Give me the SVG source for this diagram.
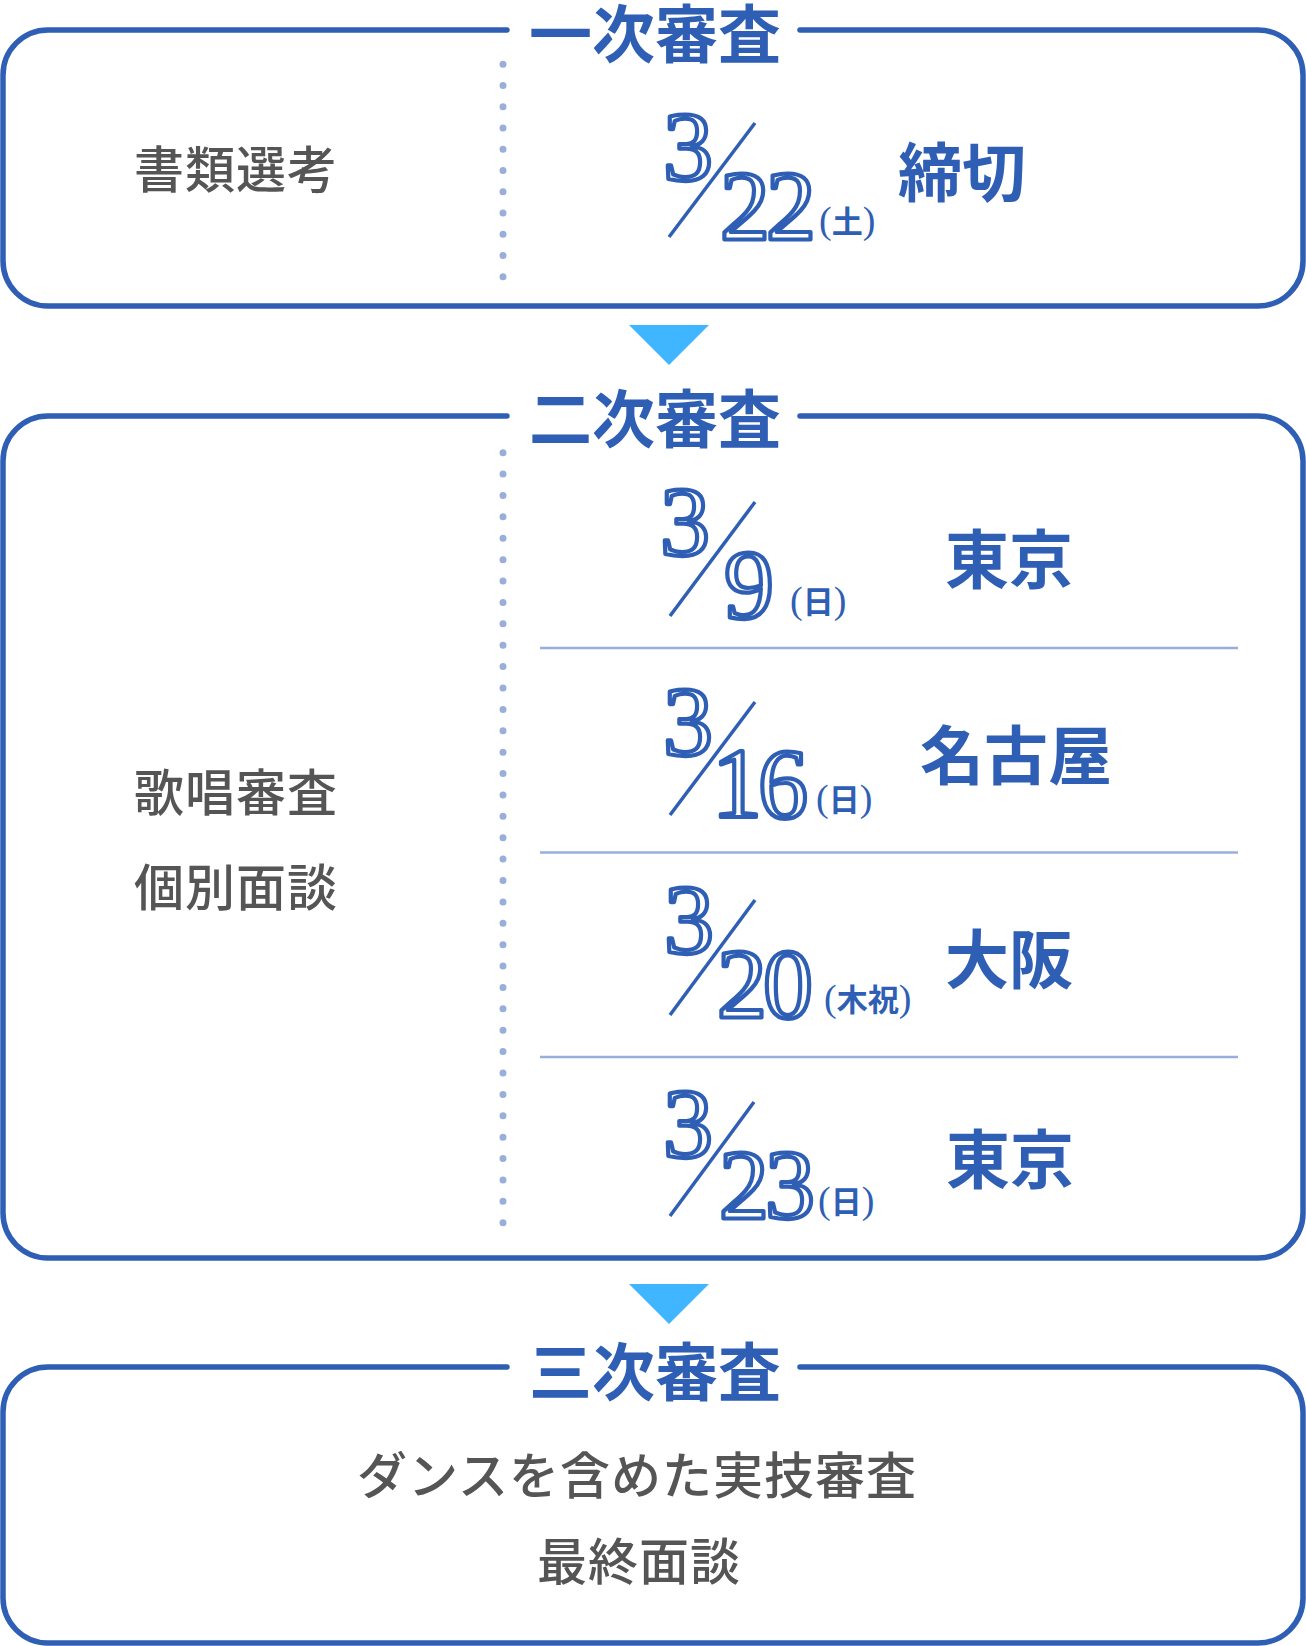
<svg xmlns="http://www.w3.org/2000/svg" width="1306" height="1646" viewBox="0 0 1306 1646">
<style>
.frame{fill:none;stroke:#2f5fb4;stroke-width:5.5;stroke-linecap:round}
.dots{fill:none;stroke:#98afdc;stroke-width:7;stroke-linecap:round}
.sep{stroke:#98afdc;stroke-width:2.5}
.title{font-family:"Noto Sans CJK JP","Noto Sans CJK SC",sans-serif;font-weight:700;font-size:63px;fill:#2f5fb4;text-anchor:middle}
.gray{font-family:"Noto Sans CJK JP","Noto Sans CJK SC",sans-serif;font-weight:500;font-size:50px;fill:#555555;letter-spacing:1px}
.num{font-family:"Liberation Serif","DejaVu Serif",serif;font-size:100px;fill:#ffffff;stroke:#2f5fb4;stroke-width:4.2;stroke-linejoin:round;letter-spacing:-4px}
.slash{stroke:#2f5fb4;stroke-width:3.5;stroke-linecap:butt}
.wd{font-family:"Liberation Serif","Noto Sans CJK JP",serif;font-size:38px;fill:#2f5fb4}
.wk{font-family:"Noto Sans CJK JP",sans-serif;font-weight:700;font-size:31px}
.place{font-family:"Noto Sans CJK JP","Noto Sans CJK SC",sans-serif;font-weight:700;font-size:64px;fill:#2f5fb4}
.arrow{fill:#3fb6ff}
</style>

<g id="stage1">
  <path class="frame" d="M507,30 H48 A45,45 0 0 0 3,75 V261 A45,45 0 0 0 48,306 H1258 A45,45 0 0 0 1303,261 V75 A45,45 0 0 0 1258,30 H800"/>
  <text class="title" x="655" y="57">一次審査</text>
  <path class="dots" d="M503,64.3 V277" stroke-dasharray="0 21.24"/>
  <text class="gray" x="134" y="188">書類選考</text>
  <g id="date-0322">
    <text class="num" x="663" y="180">3</text>
    <line class="slash" x1="755" y1="123" x2="669" y2="237"/>
    <text class="num" x="720" y="239">22</text>
    <text class="wd" x="819" y="233">(<tspan class="wk">土</tspan>)</text>
    <text class="place" x="898" y="196">締切</text>
  </g>
</g>

<g id="stage2">
  <path class="frame" d="M507,416 H48 A45,45 0 0 0 3,461 V1213 A45,45 0 0 0 48,1258 H1258 A45,45 0 0 0 1303,1213 V461 A45,45 0 0 0 1258,416 H800"/>
  <text class="title" x="655" y="442">二次審査</text>
  <path class="dots" d="M503,452.7 V1223.5" stroke-dasharray="0 21.39"/>
  <text class="gray" x="134" y="811">歌唱審査</text>
  <text class="gray" x="134" y="906">個別面談</text>
  <line class="sep" x1="540" y1="648" x2="1238" y2="648"/>
  <line class="sep" x1="540" y1="852.5" x2="1238" y2="852.5"/>
  <line class="sep" x1="540" y1="1057" x2="1238" y2="1057"/>
  <g id="date-0309">
    <text class="num" x="660" y="555">3</text>
    <line class="slash" x1="755" y1="502" x2="670" y2="616"/>
    <text class="num" x="724" y="618">9</text>
    <text class="wd" x="790" y="613">(<tspan class="wk">日</tspan>)</text>
    <text class="place" x="945" y="583">東京</text>
  </g>
  <g id="date-0316">
    <text class="num" x="663" y="755">3</text>
    <line class="slash" x1="755" y1="702" x2="670" y2="815"/>
    <text class="num" x="712" y="817">16</text>
    <text class="wd" x="816" y="811">(<tspan class="wk">日</tspan>)</text>
    <text class="place" x="920" y="779">名古屋</text>
  </g>
  <g id="date-0320">
    <text class="num" x="664" y="953">3</text>
    <line class="slash" x1="755" y1="900" x2="670" y2="1015"/>
    <text class="num" x="717" y="1017">20</text>
    <text class="wd" x="824" y="1011">(<tspan class="wk">木祝</tspan>)</text>
    <text class="place" x="945" y="983">大阪</text>
  </g>
  <g id="date-0323">
    <text class="num" x="663" y="1157">3</text>
    <line class="slash" x1="754" y1="1102" x2="670" y2="1216"/>
    <text class="num" x="719" y="1218">23</text>
    <text class="wd" x="818" y="1213">(<tspan class="wk">日</tspan>)</text>
    <text class="place" x="946" y="1183">東京</text>
  </g>
</g>

<g id="stage3">
  <path class="frame" d="M507,1367 H48 A45,45 0 0 0 3,1412 V1598 A45,45 0 0 0 48,1643 H1258 A45,45 0 0 0 1303,1598 V1412 A45,45 0 0 0 1258,1367 H800"/>
  <text class="title" x="655" y="1395">三次審査</text>
  <text class="gray" x="357" y="1494">ダンスを含めた実技審査</text>
  <text class="gray" x="537" y="1580">最終面談</text>
</g>

<g id="connectors">
  <polygon class="arrow" points="629,325 709,325 669,365"/>
  <polygon class="arrow" points="629,1284 709,1284 669,1324"/>
</g>
</svg>
